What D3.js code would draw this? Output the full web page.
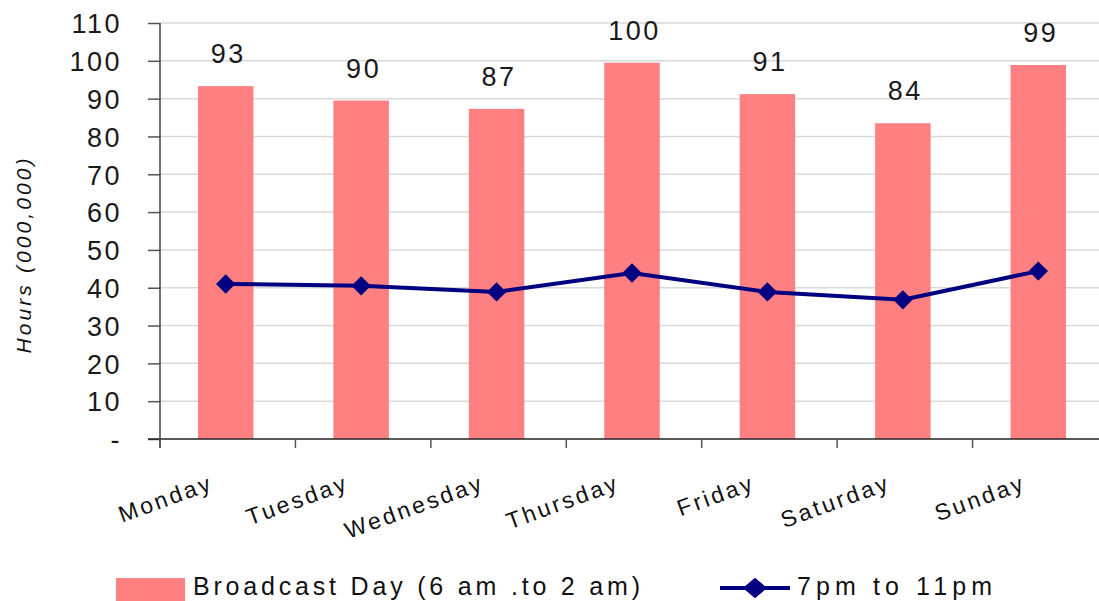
<!DOCTYPE html>
<html><head><meta charset="utf-8">
<script src="https://cdn.jsdelivr.net/npm/d3@7"></script>
<style>
html,body{margin:0;padding:0;background:#fff;}
svg{display:block;font-family:"Liberation Sans",Arial,sans-serif;}
</style></head>
<body>
<svg id="chart" width="1099" height="601"></svg>
<script>
const categories = ["Monday","Tuesday","Wednesday","Thursday","Friday","Saturday","Sunday"];
const broadcastDay = [93.3, 89.5, 87.3, 99.5, 91.2, 83.5, 98.9];
const broadcastLabels = ["93","90","87","100","91","84","99"];
const primeTime = [41.0, 40.5, 38.9, 43.9, 38.9, 36.8, 44.4];
const yTicks = [0,10,20,30,40,50,60,70,80,90,100,110];
const seriesNames = ["Broadcast Day (6 am .to 2 am)", "7pm to 11pm"];

(function(){
const svg = d3.select("#chart");
const L = 160, R = 1108, T = 23, B = 439;
const x = d3.scaleBand().domain(categories).range([L - 2, R - 2]).paddingInner(0.59).paddingOuter(0.295);
const xStep = d3.scaleBand().domain(categories).range([L, R]);
const y = d3.scaleLinear().domain([0,110]).range([B, T]);

// gridlines
svg.append("g").selectAll("line").data(yTicks.filter(d=>d>0)).join("line")
  .attr("x1", L).attr("x2", 1099).attr("y1", d=>y(d)).attr("y2", d=>y(d))
  .attr("stroke", "#d9d9d9").attr("stroke-width", 1.5);

// bars
svg.append("g").selectAll("rect").data(categories).join("rect")
  .attr("x", d=>x(d)).attr("width", x.bandwidth())
  .attr("y", (d,i)=>y(broadcastDay[i])).attr("height", (d,i)=>y(0)-y(broadcastDay[i]))
  .attr("fill", "#FF8080");

// bar labels
svg.append("g").selectAll("text").data(categories).join("text")
  .attr("x", d=>x(d)+x.bandwidth()/2 + 2.5).attr("y", (d,i)=>y(broadcastDay[i]) - 23)
  .attr("text-anchor", "middle").attr("font-size", 27).attr("letter-spacing", 2.5)
  .attr("fill", "#1a1a1a").text((d,i)=>broadcastLabels[i]);

// y axis
const yAxis = d3.axisLeft(y).tickValues(yTicks).tickSize(12).tickPadding(26)
  .tickFormat(d => d === 0 ? "-" : d3.format("d")(d));
const gy = svg.append("g").attr("transform", `translate(${L},0)`).call(yAxis);
gy.select(".domain").remove();
gy.selectAll(".tick line").attr("stroke", "#555").attr("stroke-width", 1.5);
gy.selectAll(".tick text").attr("font-size", 27).attr("letter-spacing", 2.5).attr("fill", "#1a1a1a")
  .attr("font-family", "'Liberation Sans',Arial,sans-serif").attr("dy", "0.36em");
svg.append("line").attr("x1", L).attr("x2", L).attr("y1", T).attr("y2", B + 9)
  .attr("stroke", "#444").attr("stroke-width", 1.5);

// x axis
svg.append("line").attr("x1", L - 12).attr("x2", 1099).attr("y1", B).attr("y2", B)
  .attr("stroke", "#222").attr("stroke-width", 1.5);
svg.append("g").selectAll("line").data(categories).join("line")
  .attr("x1", d=>xStep(d)).attr("x2", d=>xStep(d)).attr("y1", B).attr("y2", B + 9)
  .attr("stroke", "#555").attr("stroke-width", 1.5);

// x labels
svg.append("g").selectAll("text").data(categories).join("text")
  .attr("transform", d => `translate(${xStep(d) + xStep.bandwidth()/2 - 13},${489}) rotate(-20)`)
  .attr("text-anchor", "end").attr("font-size", 23).attr("letter-spacing", 2.8)
  .attr("fill", "#111").text(d=>d);

// y title
svg.append("text").attr("transform", "translate(31,256) rotate(-90)")
  .attr("text-anchor", "middle").attr("font-size", 21).attr("font-style", "italic")
  .attr("textLength", 195).attr("lengthAdjust", "spacing")
  .attr("fill", "#111").text("Hours (000,000)");

// line
const cx = d => x(d) + x.bandwidth()/2;
const line = d3.line().x((d,i)=>cx(categories[i])).y(d=>y(d));
svg.append("path").datum(primeTime).attr("d", line)
  .attr("fill", "none").attr("stroke", "#000080").attr("stroke-width", 4);
const diamond = d3.symbol().type(d3.symbolDiamond2).size(240);
svg.append("g").selectAll("path").data(primeTime).join("path")
  .attr("transform", (d,i)=>`translate(${cx(categories[i])},${y(d)})`)
  .attr("d", diamond).attr("fill", "#000080");

// legend
const lg = svg.append("g");
lg.append("rect").attr("x", 116).attr("y", 578).attr("width", 69).attr("height", 23).attr("fill", "#FF8080");
lg.append("text").attr("x", 193).attr("y", 595).attr("font-size", 25).attr("fill", "#111")
  .attr("textLength", 447).attr("lengthAdjust", "spacing").text(seriesNames[0]);
lg.append("line").attr("x1", 720).attr("x2", 790).attr("y1", 588).attr("y2", 588)
  .attr("stroke", "#000080").attr("stroke-width", 4);
lg.append("path").attr("transform", "translate(755,588) scale(1.25,1.05)").attr("d", diamond).attr("fill", "#000080");
lg.append("text").attr("x", 797).attr("y", 595).attr("font-size", 25).attr("fill", "#111")
  .attr("textLength", 195).attr("lengthAdjust", "spacing").text(seriesNames[1]);
})();
</script>
</body></html>
